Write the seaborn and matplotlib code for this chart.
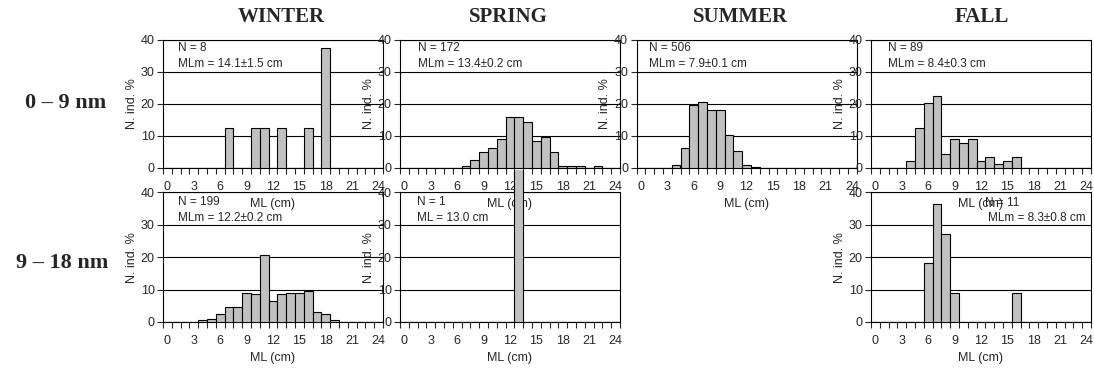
import matplotlib
matplotlib.use('Agg')
import matplotlib.pyplot as plt
import pandas as pd
import seaborn as sns
from matplotlib.transforms import Bbox, TransformedBbox

sns.set_style('white')
plt.rcParams['font.family'] = ['Liberation Sans', 'DejaVu Sans']

# mantle length classes (cm) and tick labels
ml_cm = list(range(25))
x_ticks = [0, 3, 6, 9, 12, 15, 18, 21, 24]
y_ticks = [0, 10, 20, 30, 40]

seasons = ['WINTER', 'SPRING', 'SUMMER', 'FALL']
depths = ['0 – 9 nm', '9 – 18 nm']

# % of individuals per ML class
winter_0_9 = [0, 0, 0, 0, 0, 0, 0, 12.5, 0, 0, 12.5, 12.5, 0, 12.5, 0, 0, 12.5, 0, 37.5, 0, 0, 0, 0, 0, 0]
spring_0_9 = [0, 0, 0, 0, 0, 0, 0, 0.7, 2.5, 5.0, 6.1, 9.1, 15.8, 15.8, 14.5, 8.5, 9.6, 4.9, 0.7, 0.7, 0.7, 0, 0.6, 0, 0]
summer_0_9 = [0, 0, 0, 0, 1.0, 6.3, 19.8, 20.5, 18.1, 18.1, 10.2, 5.2, 1.0, 0.4, 0, 0, 0, 0, 0, 0, 0, 0, 0, 0, 0]
fall_0_9 = [0, 0, 0, 0, 2.2, 12.4, 20.2, 22.5, 4.5, 9.0, 7.9, 9.0, 2.2, 3.4, 1.1, 2.2, 3.4, 0, 0, 0, 0, 0, 0, 0, 0]
winter_9_18 = [0, 0, 0, 0, 0.5, 1.0, 2.5, 4.5, 4.5, 9.0, 8.5, 20.6, 6.5, 8.5, 9.0, 9.0, 9.5, 3.0, 2.5, 0.5, 0, 0, 0, 0, 0]
spring_9_18 = [0, 0, 0, 0, 0, 0, 0, 0, 0, 0, 0, 0, 0, 100, 0, 0, 0, 0, 0, 0, 0, 0, 0, 0, 0]
fall_9_18 = [0, 0, 0, 0, 0, 0, 18.2, 36.4, 27.3, 9.1, 0, 0, 0, 0, 0, 0, 9.1, 0, 0, 0, 0, 0, 0, 0, 0]

n_labels = ['N = 8', 'N = 172', 'N = 506', 'N = 89', 'N = 199', 'N = 1', 'N = 11']
m_labels = ['MLm = 14.1±1.5 cm', 'MLm = 13.4±0.2 cm', 'MLm = 7.9±0.1 cm', 'MLm = 8.4±0.3 cm',
            'MLm = 12.2±0.2 cm', 'ML = 13.0 cm', 'MLm = 8.3±0.8 cm']

W, H = 1094, 369
fig = plt.figure(figsize=(W / 100, H / 100), dpi=100)

col_left = [163, 400, 636.5, 871]
col_w = 220
rows = [(40, 168), (192.5, 322)]


def make_ax(col, row):
    top, bot = rows[row]
    return fig.add_axes([col_left[col] / W, 1 - bot / H, col_w / W, (bot - top) / H])


def draw_panel(ax, values, ntxt, mtxt, tx, ty, ha='left'):
    df = pd.DataFrame({'ml': ml_cm, 'pct': values})
    sns.barplot(data=df, x='ml', y='pct', color='#c0c0c0', saturation=1,
                edgecolor='black', linewidth=0.8, width=1.0, zorder=3, ax=ax)
    ax.set_facecolor('none')
    ax.set_xlim(-0.5, 24.5)
    ax.set_ylim(0, 40)
    ax.set_xticks(x_ticks)
    ax.set_xticklabels([str(t) for t in x_ticks])
    ax.set_xticks([i - 0.5 for i in range(26)], minor=True)
    ax.set_yticks(y_ticks)
    ax.tick_params(axis='x', which='major', length=0, pad=9, labelsize=9, bottom=True)
    ax.tick_params(axis='x', which='minor', length=4, width=0.8, direction='out', bottom=True)
    ax.tick_params(axis='y', length=4, width=0.8, pad=2, labelsize=9, left=True)
    ax.yaxis.grid(True, color='black', lw=0.8)
    ax.set_axisbelow(True)
    for s in ax.spines.values():
        s.set_color('black')
        s.set_linewidth(0.8)
    ax.set_xlabel('ML (cm)', fontsize=9, labelpad=4)
    ax.set_ylabel('N. ind. %', fontsize=9, labelpad=2)
    ax.text(tx[0], ty[0], ntxt, transform=ax.transAxes, fontsize=8.5, ha='left', va='center')
    ax.text(tx[1], ty[1], mtxt, transform=ax.transAxes, fontsize=8.5, ha=ha, va='center')


# top row (0 - 9 nm)
top_data = [winter_0_9, spring_0_9, summer_0_9, fall_0_9]
top_x = [0.068, 0.082, 0.055, 0.077]
for c in range(4):
    ax = make_ax(c, 0)
    draw_panel(ax, top_data[c], n_labels[c], m_labels[c],
               (top_x[c], top_x[c]), (0.94, 0.815))

# bottom row (9 - 18 nm), no summer panel
ax = make_ax(0, 1)
draw_panel(ax, winter_9_18, n_labels[4], m_labels[4], (0.068, 0.068), (0.927, 0.803))

ax = make_ax(1, 1)
draw_panel(ax, spring_9_18, n_labels[5], m_labels[5], (0.077, 0.077), (0.927, 0.803))
# the single 100 % bar runs past the frame, up to the row above
for p in ax.patches:
    p.set_clip_box(TransformedBbox(Bbox([[0, 0], [1, 1.175]]), ax.transAxes))

ax = make_ax(3, 1)
draw_panel(ax, fall_9_18, n_labels[6], m_labels[6], (0.52, 0.977), (0.919, 0.803), ha='right')

# season titles and depth labels
title_x = [281, 508, 740, 982]
for s, x in zip(seasons, title_x):
    fig.text(x / W, 1 - 17 / H, s, ha='center', va='center', fontsize=15,
             fontweight='bold', family=['Liberation Serif', 'DejaVu Serif'])
for d, (x, y) in zip(depths, [(66, 103), (62, 263)]):
    fig.text(x / W, 1 - y / H, d, ha='center', va='center', fontsize=16,
             fontweight='bold', family=['Liberation Serif', 'DejaVu Serif'])

fig.savefig('out.png', dpi=100)
